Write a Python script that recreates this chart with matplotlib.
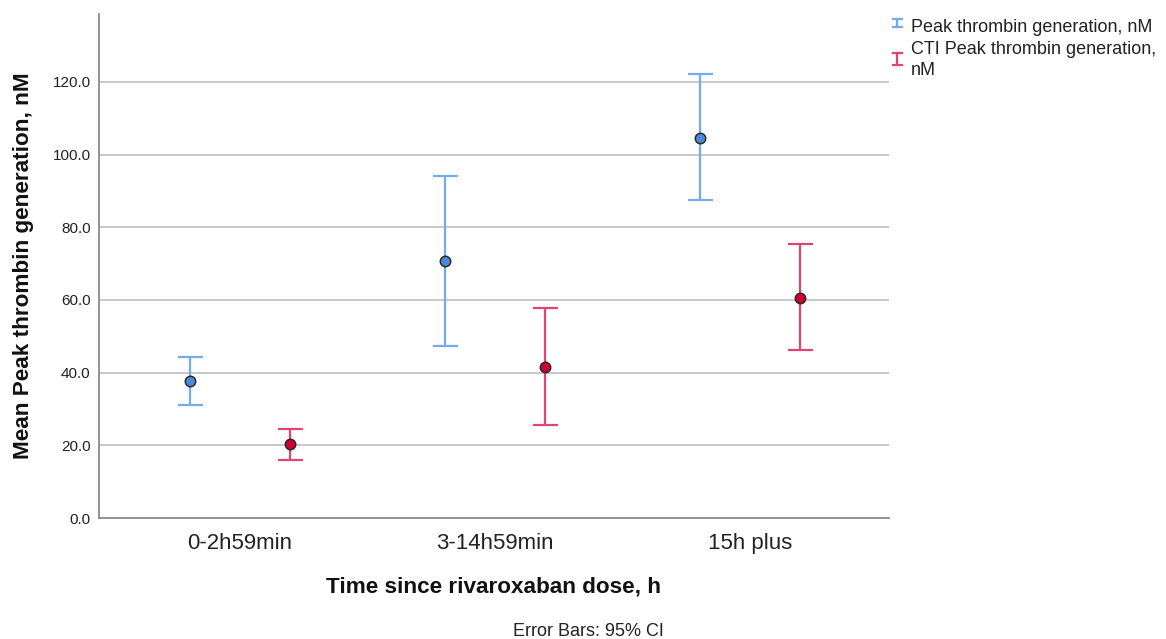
import matplotlib
matplotlib.use("Agg")
import matplotlib.pyplot as plt
from matplotlib.lines import Line2D
import numpy as np

plt.rcParams['font.family'] = ['Liberation Sans', 'DejaVu Sans']

categories = ["0-2h59min", "3-14h59min", "15h plus"]
series_names = ["Peak thrombin generation, nM", "CTI Peak thrombin generation,\nnM"]
peak_mean = [37.7, 70.7, 104.7]
peak_low = [31.1, 47.3, 87.4]
peak_high = [44.3, 94.1, 122.1]
cti_mean = [20.4, 41.6, 60.6]
cti_low = [16.0, 25.6, 46.2]
cti_high = [24.5, 57.9, 75.3]
yticks = [0, 20, 40, 60, 80, 100, 120]

W, H = 1166, 639
fig = plt.figure(figsize=(W / 100, H / 100), dpi=100)
fig.patch.set_facecolor("white")

def fx(px):
    return px / W

def fy(py):
    return 1 - py / H

ax = fig.add_axes([fx(99), fy(518), fx(889) - fx(99), fy(14) - fy(518)])

blue_line = "#74aaee"
blue_fill = "#4a8ad9"
red_line = "#e2446f"
red_fill = "#cf0030"

x = np.arange(len(categories))
off = 0.196

series = [
    (peak_mean, peak_low, peak_high, -off, blue_line, blue_fill),
    (cti_mean, cti_low, cti_high, off, red_line, red_fill),
]
for m, lo, hi, o, lc, fc in series:
    m = np.array(m); lo = np.array(lo); hi = np.array(hi)
    ax.errorbar(x + o, m, yerr=[m - lo, hi - m], fmt="none", ecolor=lc,
                elinewidth=1.6, capsize=9, capthick=1.6, zorder=3)
    ax.plot(x + o, m, "o", ms=7.5, mfc=fc, mec="#2a2a2a", mew=1.1,
            linestyle="none", zorder=4)

ax.set_xlim(-0.553, 2.545)
ax.set_ylim(0, 138.7)
ax.set_yticks(yticks)
ax.set_yticklabels([f"{v:.1f}" for v in yticks], fontsize=11, color="#222222")
ax.set_xticks(x)
ax.set_xticklabels(categories, fontsize=16, color="#222222")
ax.tick_params(axis="both", length=0)
ax.tick_params(axis="y", pad=6)
ax.tick_params(axis="x", pad=11)
for v in yticks[1:]:
    ax.axhline(v, color="#c8c8c8", lw=1.4, zorder=1)
for s in ["top", "right"]:
    ax.spines[s].set_visible(False)
for s in ["left", "bottom"]:
    ax.spines[s].set_color("#8a8a8a")
    ax.spines[s].set_linewidth(1.3)

fig.text(fx(24), fy(266), "Mean Peak thrombin generation, nM", rotation=90,
         ha="center", va="center", fontsize=16.2, fontweight="bold", color="#111111")
fig.text(fx(494), fy(587), "Time since rivaroxaban dose, h",
         ha="center", va="center", fontsize=16.2, fontweight="bold", color="#111111")
fig.text(fx(588), fy(631), "Error Bars: 95% CI",
         ha="center", va="center", fontsize=13, color="#222222")

# legend
def legend_icon(cx, y0, y1, color):
    fig.add_artist(Line2D([fx(cx), fx(cx)], [fy(y0), fy(y1)], color=color, lw=1.6))
    for yy in (y0, y1):
        fig.add_artist(Line2D([fx(cx - 4.5), fx(cx + 4.5)], [fy(yy), fy(yy)], color=color, lw=1.6))

legend_icon(897, 19, 27, blue_line)
legend_icon(897, 53, 65, red_line)
fig.text(fx(911), fy(27), series_names[0], ha="left", va="center",
         fontsize=13, color="#222222")
fig.text(fx(911), fy(60), series_names[1], ha="left", va="center",
         fontsize=13, color="#222222", linespacing=1.3)

fig.savefig("out.png", dpi=100)
